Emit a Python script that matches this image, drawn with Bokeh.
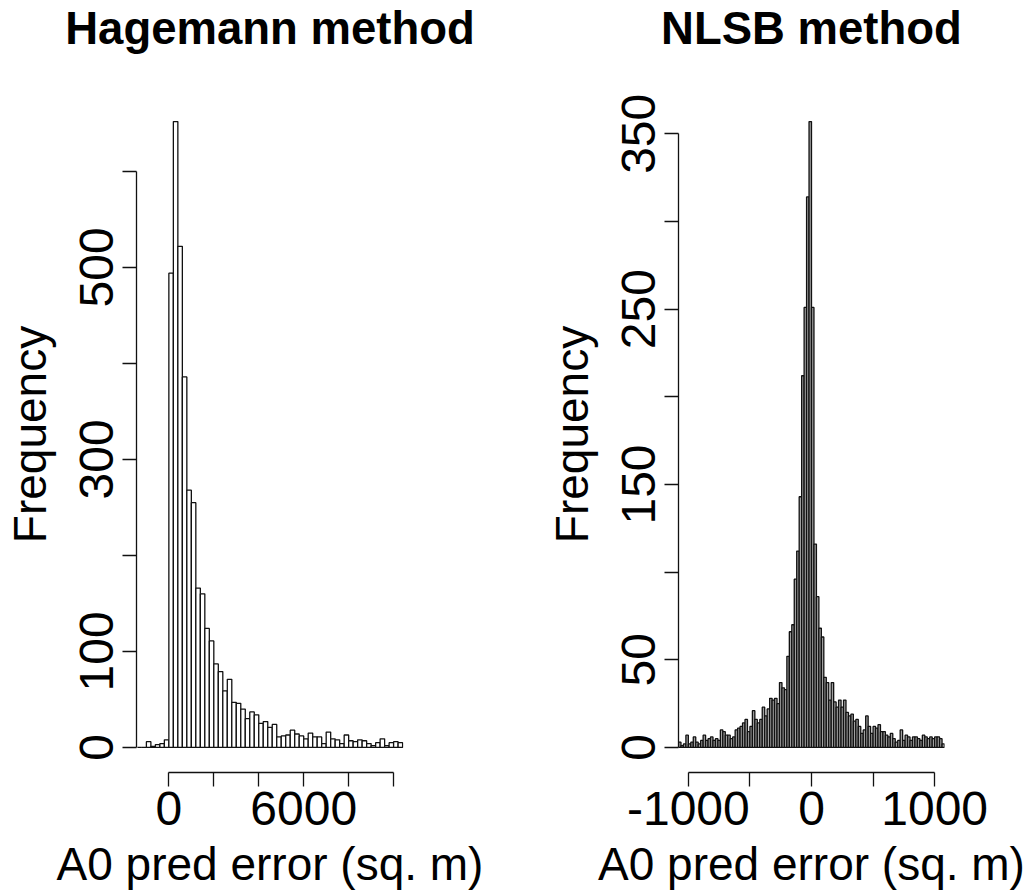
from bokeh.plotting import figure
from bokeh.layouts import row
from bokeh.models import Range1d, FixedTicker, Title
from bokeh.embed import file_html
from bokeh.resources import INLINE

# ---------------- data ----------------
# Hagemann method: bins of width 200 starting at -1400
hag_break_start = -1400
hag_bin_width = 200
hag_counts = [0, 0, 6, 1, 3, 4, 8, 494, 652, 522, 386, 268, 255, 166, 160, 124,
              111, 87, 79, 59, 71, 47, 46, 40, 30, 37, 34, 25, 27, 21, 24, 11,
              12, 13, 18, 14, 12, 9, 15, 11, 11, 4, 16, 9, 8, 4, 13, 7, 6, 8,
              7, 4, 2, 5, 9, 2, 5, 6, 5]
hag_xlim = [-1000, 10000]
hag_xticks = [0, 2000, 4000, 6000, 8000, 10000]
hag_xtick_labels = ["0", "", "", "6000", "", ""]
hag_yticks = [0, 100, 200, 300, 400, 500, 600]
hag_ytick_labels = ["0", "100", "", "300", "", "500", ""]

# NLSB method: bins of width 20 starting at -1080
nlsb_break_start = -1080
nlsb_bin_width = 20
nlsb_counts = [3, 1, 2, 7, 2, 3, 6, 3, 2, 4, 7, 4, 5, 6, 4, 5, 4, 10, 9, 7,
               7, 5, 6, 10, 11, 12, 14, 16, 9, 12, 21, 16, 14, 16, 23, 18, 22,
               28, 27, 28, 25, 37, 34, 33, 52, 66, 70, 96, 112, 143, 212, 251,
               314, 357,
               251, 116, 86, 68, 63, 40, 37, 27, 37, 26, 23, 27, 23, 27, 20, 18,
               19, 15, 16, 12, 8, 10, 18, 12, 8, 12, 11, 13, 9, 9, 7, 6, 8, 5,
               3, 4, 10, 4, 7, 6, 4, 6, 6, 5, 4, 7, 6, 5, 6, 5, 6, 6, 5, 2]
nlsb_xlim = [-1000, 1000]
nlsb_xticks = [-1000, -500, 0, 500, 1000]
nlsb_xtick_labels = ["-1000", "", "0", "", "1000"]
nlsb_yticks = [0, 50, 100, 150, 200, 250, 300, 350]
nlsb_ytick_labels = ["0", "50", "", "150", "", "250", "", "350"]

FONT = "Liberation Sans"
TICK_SIZE = "48px"
AXLAB_SIZE = "46px"
INK = "#111111"
FRAME_H = 676


def make_hist(title, start, bw, counts, xlim, xticks, xlabels, yticks, ylabels,
              fw, mb_left, mb_right, bar_fill, bar_lw):
    n = len(counts)
    lefts = [start + i * bw for i in range(n)]
    rights = [start + (i + 1) * bw for i in range(n)]
    ymax = max(counts)
    xspan = xlim[1] - xlim[0]
    p = figure(frame_width=fw, frame_height=FRAME_H,
               min_border_left=mb_left, min_border_right=mb_right,
               min_border_top=96, min_border_bottom=122,
               x_range=Range1d(xlim[0] - 0.04 * xspan, xlim[1] + 0.04 * xspan),
               y_range=Range1d(-0.04 * ymax, 1.04 * ymax),
               output_backend="svg", toolbar_location=None)
    p.quad(left=lefts, right=rights, bottom=0, top=counts,
           fill_color=bar_fill, line_color=INK, line_width=bar_lw)

    p.outline_line_color = None
    p.grid.visible = False
    p.background_fill_color = "white"
    p.border_fill_color = "white"

    # empty gap between plotting region and the main title (R's top margin)
    p.add_layout(Title(text=" ", text_font_size="1px", standoff=40), "above")
    p.add_layout(Title(text=title, align="center", standoff=0,
                       text_font=FONT, text_font_size="45.5px",
                       text_font_style="bold", text_color="black"), "above")

    for ax in (p.xaxis[0], p.yaxis[0]):
        ax.axis_line_color = INK
        ax.axis_line_width = 1.3
        ax.major_tick_line_color = INK
        ax.major_tick_line_width = 1.3
        ax.minor_tick_line_color = None
        ax.major_tick_in = 0
        ax.major_tick_out = 14
        ax.major_label_text_font = FONT
        ax.major_label_text_font_size = TICK_SIZE
        ax.major_label_text_color = "black"
        ax.axis_label_text_font = FONT
        ax.axis_label_text_font_size = AXLAB_SIZE
        ax.axis_label_text_font_style = "normal"
        ax.axis_label_text_color = "black"

    p.xaxis[0].ticker = FixedTicker(ticks=xticks)
    p.xaxis[0].major_label_overrides = {t: l for t, l in zip(xticks, xlabels)}
    p.xaxis[0].bounds = (xticks[0], xticks[-1])
    p.xaxis[0].axis_label = "A0 pred error (sq. m)"
    p.xaxis[0].major_label_standoff = 5
    p.xaxis[0].axis_label_standoff = 10

    p.yaxis[0].ticker = FixedTicker(ticks=yticks)
    p.yaxis[0].major_label_overrides = {t: l for t, l in zip(yticks, ylabels)}
    p.yaxis[0].bounds = (yticks[0], yticks[-1])
    p.yaxis[0].axis_label = "Frequency"
    p.yaxis[0].major_label_orientation = "vertical"
    p.yaxis[0].major_label_standoff = 9
    p.yaxis[0].axis_label_standoff = 22
    return p


p1 = make_hist("Hagemann method", hag_break_start, hag_bin_width, hag_counts,
               hag_xlim, hag_xticks, hag_xtick_labels, hag_yticks, hag_ytick_labels,
               267, 134, 113, "white", 1.3)
p2 = make_hist("NLSB method", nlsb_break_start, nlsb_bin_width, nlsb_counts,
               nlsb_xlim, nlsb_xticks, nlsb_xtick_labels, nlsb_yticks, nlsb_ytick_labels,
               266, 162, 86, "#a0a0a0", 1.3)

layout = row(p1, p2)
open("out.html", "w").write(file_html(layout, INLINE))
